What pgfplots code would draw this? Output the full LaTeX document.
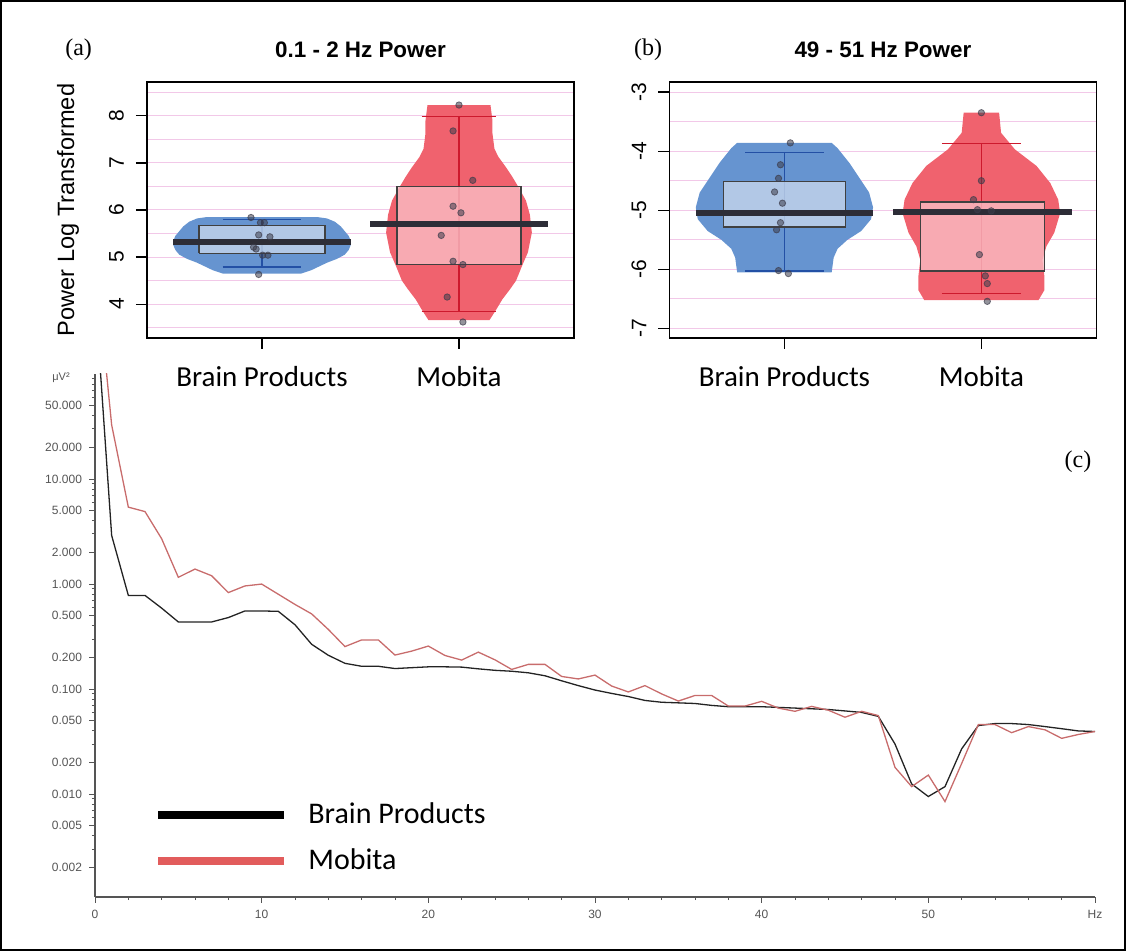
\documentclass[border=0pt]{standalone}
\usepackage{fontspec}
\setmainfont{Liberation Sans}
\newfontfamily\carlito{Carlito}
\newfontfamily\serifA{Liberation Serif}
\usepackage{pgfplots}
\usepackage{pgfplotstable}
\pgfplotsset{compat=1.18}

\definecolor{bpviolin}{RGB}{102,148,208}
\definecolor{bpbox}{RGB}{198,214,236}
\definecolor{bpwhisk}{RGB}{35,80,165}
\definecolor{mbviolin}{RGB}{240,98,110}
\definecolor{mbbox}{RGB}{250,188,195}
\definecolor{mbwhisk}{RGB}{205,25,45}
\definecolor{gridpink}{RGB}{242,200,232}
\definecolor{medline}{RGB}{45,45,55}
\definecolor{ptcol}{RGB}{60,60,75}
\definecolor{bpline}{RGB}{35,35,35}
\definecolor{mbline}{RGB}{200,108,108}
\definecolor{legred}{RGB}{226,92,92}
\definecolor{tickgray}{RGB}{85,85,85}

\pgfplotstableread{
hz bp mb
0 600 1300
1 2.9 32.7
2 0.78 5.4
3 0.78 4.9
4 0.59 2.7
5 0.436 1.16
6 0.436 1.39
7 0.436 1.20
8 0.48 0.83
9 0.555 0.96
10 0.555 1.00
11 0.55 0.80
12 0.41 0.64
13 0.267 0.52
14 0.21 0.37
15 0.176 0.254
16 0.165 0.294
17 0.165 0.294
18 0.157 0.211
19 0.160 0.230
20 0.163 0.257
21 0.163 0.209
22 0.162 0.189
23 0.156 0.225
24 0.151 0.190
25 0.148 0.154
26 0.143 0.172
27 0.134 0.172
28 0.120 0.132
29 0.108 0.125
30 0.098 0.136
31 0.091 0.107
32 0.085 0.094
33 0.078 0.108
34 0.075 0.090
35 0.074 0.077
36 0.073 0.087
37 0.070 0.087
38 0.068 0.069
39 0.068 0.069
40 0.068 0.0765
41 0.067 0.066
42 0.066 0.0615
43 0.065 0.0685
44 0.064 0.063
45 0.062 0.054
46 0.060 0.0615
47 0.055 0.056
48 0.030 0.018
49 0.0125 0.0118
50 0.0095 0.0152
51 0.0118 0.0085
52 0.027 0.0196
53 0.045 0.046
54 0.047 0.046
55 0.047 0.0385
56 0.046 0.044
57 0.044 0.041
58 0.042 0.034
59 0.040 0.037
60 0.0395 0.0395
}\spectrum

\pgfplotsset{
  violinaxis/.style={
    anchor=south west, scale only axis, height=128pt, width=213.5pt,
    xmin=0.416, xmax=2.584,
    xtick={1,2}, xticklabels={Brain Products,Mobita},
    tick pos=left, tick align=outside,
    major tick length=5.5pt, minor tick length=0pt,
    axis line style={black, line width=0.6pt},
    tick style={black, line width=0.6pt},
    x tick label style={font=\carlito\fontsize{14.5}{16}\selectfont, yshift=-5pt},
    y tick label style={font=\fontsize{10.5}{12}\selectfont, rotate=90, anchor=south},
    yticklabel shift=2.5pt,
    ymajorgrids, yminorgrids,
    major grid style={gridpink, line width=0.5pt},
    minor grid style={gridpink, line width=0.5pt},
    every axis title/.style={at={(axis description cs:0.5,1)}, anchor=center, yshift=16pt, font=\bfseries\fontsize{11.2}{13}\selectfont},
  },
  pts/.style={only marks, mark=*, mark size=1.6pt, mark options={fill=ptcol, fill opacity=0.55, draw=ptcol, draw opacity=0.7}},
}

\begin{document}
\begin{tikzpicture}
\useasboundingbox (0,0) rectangle (563pt,475.5pt);
\draw[line width=0.8pt] (0.4pt,0.4pt) rectangle (562.6pt,475.1pt);

% ---------- panel (a)
\begin{axis}[violinaxis, at={(73.5pt,306.5pt)},
  ymin=3.28, ymax=8.72, ytick={4,5,6,7,8}, yticklabels={4,5,6,7,8}, minor ytick={3.5,4.5,5.5,6.5,7.5,8.5},
  title={0.1 - 2 Hz Power},
  ylabel={Power Log Transformed},
  every axis y label/.style={at={(axis description cs:-0.185,0.5)}, rotate=90, anchor=center, font=\fontsize{11.8}{14}\selectfont}]
\addplot[fill=bpviolin, draw=none] coordinates {(0.80,4.65) (0.75,4.72) (0.71,4.80) (0.67,4.88) (0.62,4.96) (0.58,5.05) (0.56,5.15) (0.55,5.25) (0.55,5.35) (0.56,5.45) (0.58,5.55) (0.60,5.65) (0.63,5.75) (0.67,5.82) (0.72,5.85) (1.28,5.85) (1.33,5.82) (1.37,5.75) (1.40,5.65) (1.42,5.55) (1.44,5.45) (1.45,5.35) (1.45,5.25) (1.44,5.15) (1.42,5.05) (1.38,4.96) (1.33,4.88) (1.29,4.80) (1.25,4.72) (1.20,4.65)};
\addplot[fill=mbviolin, draw=none] coordinates {(1.845,3.66) (1.81,3.89) (1.78,4.10) (1.74,4.32) (1.71,4.50) (1.68,4.81) (1.65,5.10) (1.63,5.52) (1.64,5.90) (1.66,6.20) (1.70,6.50) (1.73,6.71) (1.76,6.90) (1.80,7.13) (1.82,7.30) (1.83,7.63) (1.83,7.90) (1.84,8.23) (2.16,8.23) (2.17,7.90) (2.17,7.63) (2.18,7.30) (2.20,7.13) (2.24,6.90) (2.27,6.71) (2.30,6.50) (2.34,6.20) (2.36,5.90) (2.37,5.52) (2.35,5.10) (2.32,4.81) (2.29,4.50) (2.26,4.32) (2.22,4.10) (2.19,3.89) (2.155,3.66)};
% whiskers
\addplot[bpwhisk, line width=0.7pt] coordinates {(1,4.79) (1,5.80)};
\addplot[bpwhisk, line width=0.8pt] coordinates {(0.80,5.80) (1.20,5.80)};
\addplot[bpwhisk, line width=0.8pt] coordinates {(0.80,4.79) (1.20,4.79)};
\addplot[mbwhisk, line width=0.7pt] coordinates {(2,3.84) (2,7.99)};
\addplot[mbwhisk, line width=0.8pt] coordinates {(1.81,7.99) (2.19,7.99)};
\addplot[mbwhisk, line width=0.8pt] coordinates {(1.81,3.84) (2.19,3.84)};
% points
\addplot[pts] coordinates {(0.944,5.84) (0.992,5.73) (1.012,5.73) (0.983,5.47) (1.04,5.43) (0.957,5.21) (0.97,5.17) (1.003,5.04) (1.03,5.04) (0.983,4.63)};
\addplot[pts] coordinates {(2.0,8.23) (1.97,7.68) (2.07,6.63) (1.97,6.08) (2.01,5.94) (1.91,5.46) (1.97,4.91) (2.02,4.84) (1.94,4.15) (2.02,3.62)};
% boxes
\addplot[fill=bpbox, fill opacity=0.8, draw=black!75, line width=0.7pt] coordinates {(0.68,5.08) (1.32,5.08) (1.32,5.67) (0.68,5.67) (0.68,5.08)};
\addplot[fill=mbbox, fill opacity=0.8, draw=black!75, line width=0.7pt] coordinates {(1.686,4.84) (2.314,4.84) (2.314,6.50) (1.686,6.50) (1.686,4.84)};
% medians
\addplot[medline, line width=3pt] coordinates {(0.55,5.31) (1.45,5.31)};
\addplot[medline, line width=3pt] coordinates {(1.55,5.70) (2.45,5.70)};
\end{axis}

% ---------- panel (b)
\begin{axis}[violinaxis, at={(334.7pt,306.5pt)},
  ymin=-7.16, ymax=-2.83, ytick={-7,-6,-5,-4,-3}, yticklabels={-7,-6,-5,-4,-3}, minor ytick={-6.5,-5.5,-4.5,-3.5},
  title={49 - 51 Hz Power}]
\addplot[fill=bpviolin, draw=none] coordinates {(0.76,-6.05) (0.75,-5.80) (0.73,-5.65) (0.68,-5.50) (0.61,-5.35) (0.56,-5.15) (0.55,-4.95) (0.57,-4.70) (0.62,-4.45) (0.67,-4.20) (0.73,-3.95) (0.76,-3.86) (1.24,-3.86) (1.27,-3.95) (1.33,-4.20) (1.38,-4.45) (1.43,-4.70) (1.45,-4.95) (1.44,-5.15) (1.39,-5.35) (1.32,-5.50) (1.27,-5.65) (1.25,-5.80) (1.24,-6.05)};
\addplot[fill=mbviolin, draw=none] coordinates {(1.71,-6.52) (1.68,-6.35) (1.68,-6.12) (1.69,-5.84) (1.67,-5.61) (1.63,-5.38) (1.60,-5.05) (1.61,-4.82) (1.65,-4.54) (1.72,-4.25) (1.83,-3.97) (1.90,-3.69) (1.91,-3.35) (2.09,-3.35) (2.10,-3.69) (2.17,-3.97) (2.28,-4.25) (2.35,-4.54) (2.39,-4.82) (2.40,-5.05) (2.37,-5.38) (2.33,-5.61) (2.31,-5.84) (2.32,-6.12) (2.32,-6.35) (2.29,-6.52)};
\addplot[bpwhisk, line width=0.7pt] coordinates {(1,-6.03) (1,-4.02)};
\addplot[bpwhisk, line width=0.8pt] coordinates {(0.80,-4.02) (1.20,-4.02)};
\addplot[bpwhisk, line width=0.8pt] coordinates {(0.80,-6.03) (1.20,-6.03)};
\addplot[mbwhisk, line width=0.7pt] coordinates {(2,-6.41) (2,-3.87)};
\addplot[mbwhisk, line width=0.8pt] coordinates {(1.80,-3.87) (2.20,-3.87)};
\addplot[mbwhisk, line width=0.8pt] coordinates {(1.80,-6.41) (2.20,-6.41)};
\addplot[pts] coordinates {(1.03,-3.86) (0.98,-4.23) (0.97,-4.46) (0.95,-4.69) (0.99,-4.88) (0.98,-5.21) (0.96,-5.33) (0.97,-6.02) (1.02,-6.07)};
\addplot[pts] coordinates {(2.0,-3.35) (2.0,-4.50) (1.96,-4.82) (1.98,-4.99) (2.05,-5.01) (1.99,-5.75) (2.02,-6.11) (2.03,-6.24) (2.03,-6.54)};
\addplot[fill=bpbox, fill opacity=0.8, draw=black!75, line width=0.7pt] coordinates {(0.69,-5.28) (1.31,-5.28) (1.31,-4.51) (0.69,-4.51) (0.69,-5.28)};
\addplot[fill=mbbox, fill opacity=0.8, draw=black!75, line width=0.7pt] coordinates {(1.69,-6.03) (2.32,-6.03) (2.32,-4.86) (1.69,-4.86) (1.69,-6.03)};
\addplot[medline, line width=3pt] coordinates {(0.55,-5.04) (1.45,-5.04)};
\addplot[medline, line width=3pt] coordinates {(1.55,-5.03) (2.46,-5.03)};
\end{axis}

% ---------- panel (c)
\begin{axis}[anchor=south west, at={(47.5pt,27pt)}, scale only axis, width=500pt, height=261.5pt,
  ymode=log, xmin=0, xmax=60, ymin=0.00105, ymax=100,
  axis lines*=left, tick align=outside,
  xtick={0,10,...,60}, xticklabels={0,10,20,30,40,50,Hz}, minor xtick={2,4,...,58},
  ytick={0.002,0.005,0.01,0.02,0.05,0.1,0.2,0.5,1,2,5,10,20,50},
  yticklabels={0.002,0.005,0.010,0.020,0.050,0.100,0.200,0.500,1.000,2.000,5.000,10.000,20.000,50.000},
  minor ytick={0.003,0.004,0.006,0.007,0.008,0.009,0.03,0.04,0.06,0.07,0.08,0.09,0.3,0.4,0.6,0.7,0.8,0.9,3,4,6,7,8,9,30,40,60,70,80,90},
  major tick length=3pt, minor tick length=1.6pt,
  tick label style={font=\fontsize{6}{7}\selectfont, text=tickgray},
  axis line style={tickgray, line width=0.7pt}, tick style={tickgray, line width=0.5pt},
  legend style={at={(axis description cs:0.059,0.1885)}, anchor=north west, draw=none, fill=none,
    font=\carlito\fontsize{15}{18}\selectfont, row sep=7pt, inner sep=0pt,
    /tikz/every odd column/.append style={column sep=8pt}},
  legend cell align=left,
  legend image code/.code={\draw[#1, line width=4pt] (0pt,0pt) -- (63pt,0pt);}]
\addlegendimage{black}
\addlegendentry{Brain Products}
\addlegendimage{legred}
\addlegendentry{Mobita}
\addplot[forget plot, bpline, line width=0.65pt] table[x=hz, y=bp] {\spectrum};
\addplot[forget plot, mbline, line width=0.65pt] table[x=hz, y=mb] {\spectrum};
\end{axis}

\node[font=\serifA\fontsize{12}{14}\selectfont] at (39.3pt,450.5pt) {(a)};
\node[font=\serifA\fontsize{12}{14}\selectfont] at (324pt,450.5pt) {(b)};
\node[font=\serifA\fontsize{12}{14}\selectfont] at (539pt,244.5pt) {(c)};
\node[font=\fontsize{5.5}{6}\selectfont, text=tickgray] at (30.5pt,286.5pt) {μV²};
\end{tikzpicture}
\end{document}
